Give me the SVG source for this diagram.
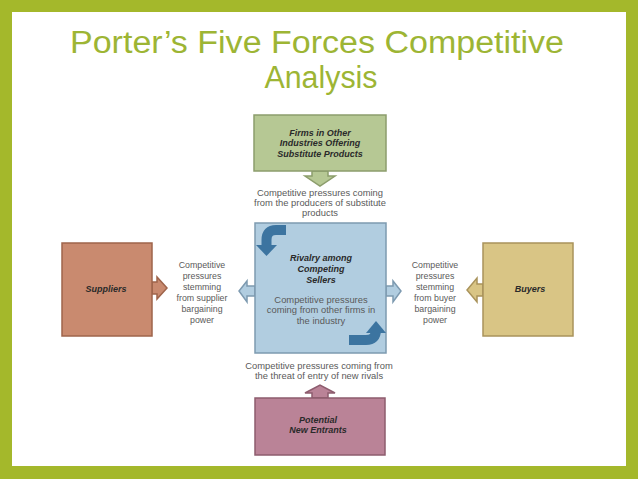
<svg xmlns="http://www.w3.org/2000/svg" width="638" height="479" viewBox="0 0 638 479">
<style>
.title{font-family:"Liberation Sans",Arial,sans-serif;font-size:31px;fill:#9db534;text-anchor:middle}
.lbl{font-family:"Liberation Sans",Arial,sans-serif;font-size:9px;font-weight:bold;font-style:italic;fill:#2a2a2a;text-anchor:middle}
.txt{font-family:"Liberation Sans",Arial,sans-serif;font-size:9.4px;fill:#5a5a5a;text-anchor:middle}
.side{font-family:"Liberation Sans",Arial,sans-serif;font-size:8.8px;fill:#5a5a5a;text-anchor:middle}
.green{fill:#b6c894;stroke:#8c9d6c;stroke-width:1.5}
.blue{fill:#b1cde0;stroke:#7d9ab0;stroke-width:1.5}
.rust{fill:#c98a6f;stroke:#9e644b;stroke-width:1.5}
.khaki{fill:#d9c585;stroke:#a9935b;stroke-width:1.5}
.mauve{fill:#ba8397;stroke:#8d5c6e;stroke-width:1.5}
.curl{fill:none;stroke:#3c74a0;stroke-width:10}
.curlhead{fill:#3c74a0}
</style>
<rect x="0" y="0" width="638" height="479" fill="#a4b82b"/>
<rect x="12" y="12" width="614" height="454" fill="#ffffff"/>
<text class="title" x="317" y="53" textLength="494" lengthAdjust="spacingAndGlyphs">Porter’s Five Forces Competitive</text>
<text class="title" x="321" y="88" textLength="113" lengthAdjust="spacingAndGlyphs">Analysis</text>

<g id="connectors">
  <polygon class="green" points="312,171 328,171 328,176 335,176 320,186 305,176 312,176"/>
  <polygon class="blue" points="255,286 247,286 247,281 239,291 247,302 247,296 255,296"/>
  <polygon class="blue" points="386,286 393,286 393,281 401,291 393,302 393,296 386,296"/>
  <polygon class="rust" points="152,282 157,282 157,277 167,288 157,299 157,294 152,294"/>
  <polygon class="khaki" points="483,284 477,284 477,278 467,290 477,302 477,296 483,296"/>
  <polygon class="mauve" points="312,398 312,393 305,393 320,385 335,393 328,393 328,398"/>
</g>

<g id="substitutes">
  <rect class="green" x="254" y="115" width="132" height="56"/>
  <text class="lbl" x="320" y="136">Firms in Other</text>
  <text class="lbl" x="320" y="146">Industries Offering</text>
  <text class="lbl" x="320" y="157">Substitute Products</text>
</g>
<g id="substitutes-label">
  <text class="txt" x="320" y="196">Competitive pressures coming</text>
  <text class="txt" x="320" y="206">from the producers of substitute</text>
  <text class="txt" x="320" y="216">products</text>
</g>

<g id="rivalry">
  <rect class="blue" x="255" y="223" width="131" height="130"/>
  <path class="curl" d="M286 230 L276 230 Q266.5 230 266.5 240 L266.5 246"/>
  <polygon class="curlhead" points="256,245 277,245 266.5,256"/>
  <path class="curl" d="M349 340 L366 340 Q376 340 376 330 L376 332"/>
  <polygon class="curlhead" points="366,333 386,333 376,321"/>
  <text class="lbl" x="321" y="261">Rivalry among</text>
  <text class="lbl" x="321" y="272">Competing</text>
  <text class="lbl" x="321" y="283">Sellers</text>
  <text class="txt" x="321" y="303">Competitive pressures</text>
  <text class="txt" x="321" y="313">coming from other firms in</text>
  <text class="txt" x="321" y="324">the industry</text>
</g>

<g id="suppliers">
  <rect class="rust" x="62" y="243" width="90" height="93"/>
  <text class="lbl" x="106" y="292">Suppliers</text>
</g>
<g id="suppliers-label">
  <text class="side" x="202" y="268">Competitive</text>
  <text class="side" x="202" y="279">pressures</text>
  <text class="side" x="202" y="290">stemming</text>
  <text class="side" x="202" y="301">from supplier</text>
  <text class="side" x="202" y="312">bargaining</text>
  <text class="side" x="202" y="323">power</text>
</g>

<g id="buyers">
  <rect class="khaki" x="483" y="243" width="90" height="93"/>
  <text class="lbl" x="530" y="292">Buyers</text>
</g>
<g id="buyers-label">
  <text class="side" x="435" y="268">Competitive</text>
  <text class="side" x="435" y="279">pressures</text>
  <text class="side" x="435" y="290">stemming</text>
  <text class="side" x="435" y="301">from buyer</text>
  <text class="side" x="435" y="312">bargaining</text>
  <text class="side" x="435" y="323">power</text>
</g>

<g id="entrants-label">
  <text class="txt" x="319" y="369">Competitive pressures coming from</text>
  <text class="txt" x="319" y="379">the threat of entry of new rivals</text>
</g>
<g id="entrants">
  <rect class="mauve" x="255" y="398" width="130" height="57"/>
  <text class="lbl" x="318" y="423">Potential</text>
  <text class="lbl" x="318" y="433">New Entrants</text>
</g>
</svg>
